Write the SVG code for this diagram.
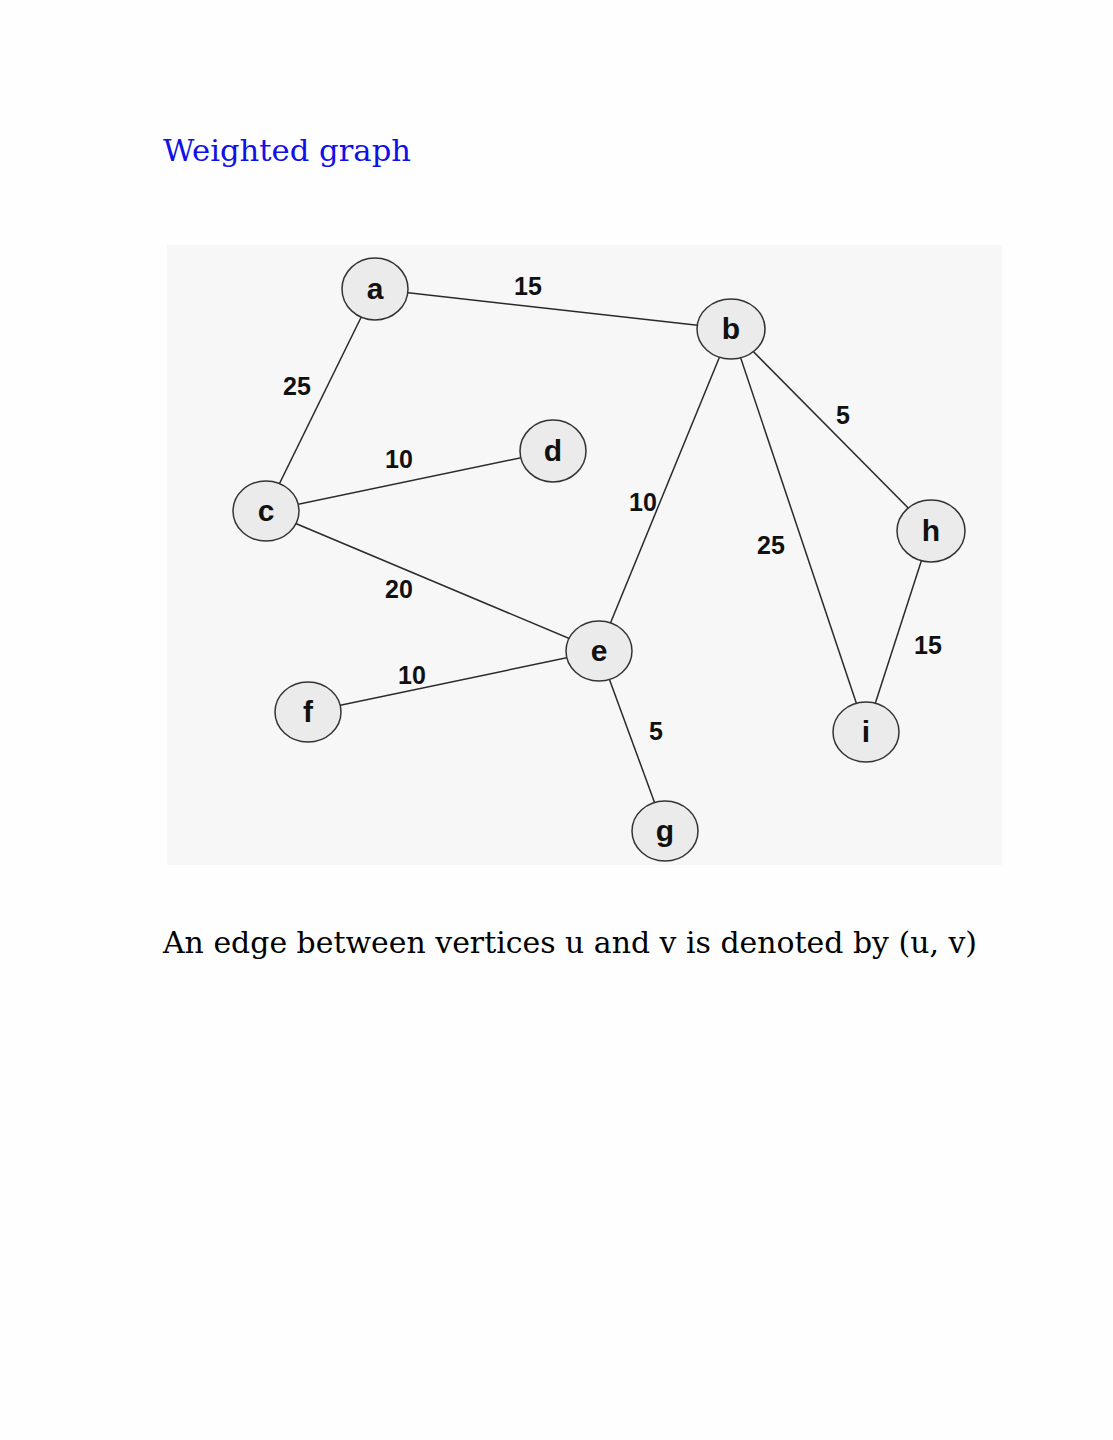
<svg xmlns="http://www.w3.org/2000/svg" width="1113" height="1440" viewBox="0 0 1113 1440">
<style>
.edge{stroke:#2a2a2a;stroke-width:1.5;fill:none}
.node ellipse{fill:#ebebeb;stroke:#333;stroke-width:1.5}
.node text{font-family:"Liberation Sans",Arial,sans-serif;font-weight:bold;font-size:30px;fill:#111;text-anchor:middle;dominant-baseline:central}
.w{font-family:"Liberation Sans",Arial,sans-serif;font-weight:bold;font-size:25px;fill:#111;text-anchor:middle;dominant-baseline:central}
.title{font-family:"DejaVu Serif","Liberation Serif",serif;font-size:29px;fill:#1010e8}
.body{font-family:"DejaVu Serif","Liberation Serif",serif;font-size:29px;fill:#000}
</style>
<rect width="1113" height="1440" fill="#fefefe"/>
<text class="title" x="163" y="161" textLength="248" lengthAdjust="spacingAndGlyphs">Weighted graph</text>
<rect x="167" y="245" width="835" height="620" fill="#f7f7f7"/>
<g id="edges">
<line class="edge" x1="375" y1="289" x2="731" y2="329"/>
<line class="edge" x1="375" y1="289" x2="266" y2="511"/>
<line class="edge" x1="266" y1="511" x2="553" y2="451"/>
<line class="edge" x1="266" y1="511" x2="599" y2="651"/>
<line class="edge" x1="731" y1="329" x2="599" y2="651"/>
<line class="edge" x1="731" y1="329" x2="931" y2="531"/>
<line class="edge" x1="731" y1="329" x2="866" y2="732"/>
<line class="edge" x1="931" y1="531" x2="866" y2="732"/>
<line class="edge" x1="308" y1="712" x2="599" y2="651"/>
<line class="edge" x1="599" y1="651" x2="665" y2="831"/>
<text class="w" x="528" y="286">15</text>
<text class="w" x="297" y="386">25</text>
<text class="w" x="399" y="459">10</text>
<text class="w" x="643" y="502">10</text>
<text class="w" x="843" y="415">5</text>
<text class="w" x="771" y="545">25</text>
<text class="w" x="399" y="589">20</text>
<text class="w" x="412" y="675">10</text>
<text class="w" x="656" y="731">5</text>
<text class="w" x="928" y="645">15</text>
</g>
<g id="node-a" class="node"><ellipse cx="375" cy="289" rx="33" ry="31"/><text x="375" y="288">a</text></g>
<g id="node-b" class="node"><ellipse cx="731" cy="329" rx="34" ry="30"/><text x="731" y="328">b</text></g>
<g id="node-c" class="node"><ellipse cx="266" cy="511" rx="33" ry="30"/><text x="266" y="510">c</text></g>
<g id="node-d" class="node"><ellipse cx="553" cy="451" rx="33" ry="31"/><text x="553" y="450">d</text></g>
<g id="node-e" class="node"><ellipse cx="599" cy="651" rx="33" ry="30"/><text x="599" y="650">e</text></g>
<g id="node-f" class="node"><ellipse cx="308" cy="712" rx="33" ry="30"/><text x="308" y="711">f</text></g>
<g id="node-g" class="node"><ellipse cx="665" cy="831" rx="33" ry="30"/><text x="665" y="830">g</text></g>
<g id="node-h" class="node"><ellipse cx="931" cy="531" rx="34" ry="31"/><text x="931" y="530">h</text></g>
<g id="node-i" class="node"><ellipse cx="866" cy="732" rx="33" ry="30"/><text x="866" y="731">i</text></g>
<text class="body" x="163" y="953" textLength="814" lengthAdjust="spacingAndGlyphs">An edge between vertices u and v is denoted by (u, v)</text>
</svg>
